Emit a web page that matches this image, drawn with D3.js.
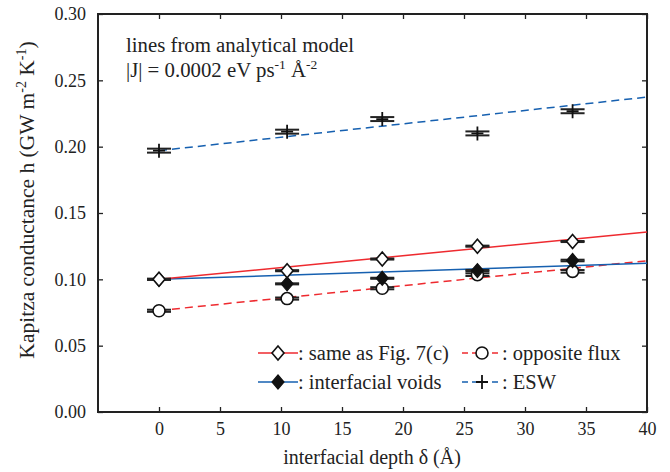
<!DOCTYPE html>
<html>
<head>
<meta charset="utf-8">
<script src="https://cdn.jsdelivr.net/npm/d3@7"></script>
<style>
  body { margin: 0; background: white; }
  svg { font-family: "Liberation Serif", "Times New Roman", serif; }
</style>
</head>
<body>
<svg id="chart" width="670" height="472"></svg>
<script>
// depth positions (Angstrom)
var depth = [0, 10.5, 18.3, 26.1, 33.9];

// simulated conductances (GW m^-2 K^-1) and their errors
var sameH = [0.1000, 0.1065, 0.1153, 0.1250, 0.1285];
var sameErr = [0.0004, 0.0004, 0.0004, 0.0004, 0.0004];
var voidsH = [0.1000, 0.0966, 0.1008, 0.1066, 0.1142];
var voidsErr = [0.0004, 0.0004, 0.0004, 0.0005, 0.0006];
var oppH = [0.0763, 0.0855, 0.0933, 0.1035, 0.1060];
var oppErr = [0.0008, 0.0008, 0.0008, 0.0010, 0.0010];
var eswH = [0.1970, 0.2113, 0.2208, 0.2100, 0.2267];
var eswErr = [0.0015, 0.0015, 0.0015, 0.0015, 0.0015];

// analytical model lines: [h at 0, h at 40]
var lineX = [0, 40];
var sameLine = [0.1000, 0.1356];
var voidsLine = [0.1000, 0.1121];
var oppLine = [0.0765, 0.1140];
var eswLine = [0.1970, 0.2374];

var xTicks = [0, 5, 10, 15, 20, 25, 30, 35, 40];
var yTicks = [0, 0.05, 0.10, 0.15, 0.20, 0.25, 0.30];

var red = "#ee2a2f", blue = "#1660b0";

var svg = d3.select("#chart");
var mLeft = 98, mRight = 647, mTop = 14, mBottom = 412;

var x = d3.scaleLinear().domain([-5, 40]).range([mLeft, mRight]);
var y = d3.scaleLinear().domain([0, 0.30]).range([mBottom, mTop]);

// axes with inward ticks on all four sides
svg.append("g")
    .attr("transform", "translate(0," + mBottom + ")")
    .call(d3.axisBottom(x).tickValues(xTicks).tickSizeInner(-5).tickSizeOuter(0).tickPadding(10).tickFormat(d3.format("d")));
svg.append("g")
    .attr("transform", "translate(0," + mTop + ")")
    .call(d3.axisTop(x).tickValues(xTicks).tickSizeInner(-5).tickSizeOuter(0).tickFormat(""));
svg.append("g")
    .attr("transform", "translate(" + mLeft + ",0)")
    .call(d3.axisLeft(y).tickValues(yTicks).tickSizeInner(-5).tickSizeOuter(0).tickPadding(12).tickFormat(d3.format(".2f")));
svg.append("g")
    .attr("transform", "translate(" + mRight + ",0)")
    .call(d3.axisRight(y).tickValues(yTicks).tickSizeInner(-5).tickSizeOuter(0).tickFormat(""));

svg.selectAll(".domain").remove();
svg.selectAll(".tick line").attr("stroke", "#222").attr("stroke-width", 1.3);
svg.selectAll(".tick text")
    .attr("font-family", "Liberation Serif")
    .attr("font-size", 18)
    .attr("fill", "#222");

svg.append("rect")
    .attr("x", mLeft).attr("y", mTop)
    .attr("width", mRight - mLeft).attr("height", mBottom - mTop)
    .attr("fill", "none").attr("stroke", "#222").attr("stroke-width", 2);

// axis titles
svg.append("text")
    .attr("x", 372).attr("y", 464)
    .attr("text-anchor", "middle")
    .attr("font-size", 20).attr("fill", "#222")
    .text("interfacial depth \u03b4 (\u00c5)");

var yl = svg.append("text")
    .attr("transform", "translate(34,200) rotate(-90)")
    .attr("text-anchor", "middle")
    .attr("font-size", 21.5).attr("fill", "#222");
yl.append("tspan").text("Kapitza conductance h (GW m");
yl.append("tspan").attr("dy", -8).attr("font-size", 14).text("-2");
yl.append("tspan").attr("dy", 8).text(" K");
yl.append("tspan").attr("dy", -8).attr("font-size", 14).text("-1");
yl.append("tspan").attr("dy", 8).text(")");

// annotation
svg.append("text")
    .attr("x", 126).attr("y", 52)
    .attr("font-size", 20.8).attr("fill", "#222")
    .text("lines from analytical model");
var ann = svg.append("text")
    .attr("x", 126).attr("y", 77)
    .attr("font-size", 20.8).attr("fill", "#222");
ann.append("tspan").text("|J| = 0.0002 eV ps");
ann.append("tspan").attr("dy", -8).attr("font-size", 13.5).text("-1");
ann.append("tspan").attr("dy", 8).text(" \u00c5");
ann.append("tspan").attr("dy", -8).attr("font-size", 13.5).text("-2");

// model lines
var line = d3.line().x(d => x(d[0])).y(d => y(d[1]));
function modelLine(vals, color, dash) {
    svg.append("path")
        .datum(lineX.map((v, i) => [v, vals[i]]))
        .attr("d", line)
        .attr("fill", "none")
        .attr("stroke", color)
        .attr("stroke-width", 1.5)
        .attr("stroke-dasharray", dash ? "8,5" : null);
}
modelLine(eswLine, blue, true);
modelLine(oppLine, red, true);
modelLine(voidsLine, blue, false);
modelLine(sameLine, red, false);

// markers
var diamond = "M0,-7L6,0L0,7L-6,0Z";
function drawMarker(g, kind) {
    if (kind == "openDiamond") {
        g.append("path").attr("d", diamond).attr("fill", "white").attr("stroke", "#111").attr("stroke-width", 1.6);
    } else if (kind == "fillDiamond") {
        g.append("path").attr("d", diamond).attr("fill", "#111").attr("stroke", "#111").attr("stroke-width", 1.2);
    } else if (kind == "circle") {
        g.append("circle").attr("r", 6).attr("fill", "white").attr("stroke", "#111").attr("stroke-width", 1.6);
    } else {
        g.append("path").attr("d", "M0,-7V7M-6,0H6").attr("stroke", "#111").attr("stroke-width", 1.8);
    }
}

function series(vals, errs, kind) {
    var g = svg.append("g");
    depth.forEach(function(d, i) {
        var cx = x(d), yt = y(vals[i] + errs[i]), yb = y(vals[i] - errs[i]);
        var p = g.append("g");
        // error bar caps
        [yt, yb].forEach(function(yy) {
            p.append("line")
                .attr("x1", cx - 12).attr("x2", cx + 12)
                .attr("y1", yy).attr("y2", yy)
                .attr("stroke", "#222").attr("stroke-width", 2);
        });
        p.append("line")
            .attr("x1", cx).attr("x2", cx).attr("y1", yt).attr("y2", yb)
            .attr("stroke", "#222").attr("stroke-width", 1.5);
        var m = p.append("g").attr("transform", "translate(" + cx + "," + y(vals[i]) + ")");
        drawMarker(m, kind);
    });
}
series(eswH, eswErr, "cross");
series(oppH, oppErr, "circle");
series(voidsH, voidsErr, "fillDiamond");
series(sameH, sameErr, "openDiamond");

// legend
var legend = [
    { label: ": same as Fig. 7(c)", color: red, dash: false, kind: "openDiamond", lx: 258, ly: 353 },
    { label: ": opposite flux", color: red, dash: true, kind: "circle", lx: 462, ly: 353 },
    { label: ": interfacial voids", color: blue, dash: false, kind: "fillDiamond", lx: 258, ly: 382 },
    { label: ": ESW", color: blue, dash: true, kind: "cross", lx: 462, ly: 382 }
];
legend.forEach(function(l) {
    var g = svg.append("g").attr("transform", "translate(" + l.lx + "," + l.ly + ")");
    g.append("line")
        .attr("x1", 0).attr("x2", 40).attr("y1", 0).attr("y2", 0)
        .attr("stroke", l.color).attr("stroke-width", 1.5)
        .attr("stroke-dasharray", l.dash ? "6,4" : null);
    drawMarker(g.append("g").attr("transform", "translate(20,0)"), l.kind);
    g.append("text")
        .attr("x", 40).attr("y", 7)
        .attr("font-size", 20.5).attr("fill", "#222")
        .text(l.label);
});
</script>
</body>
</html>
